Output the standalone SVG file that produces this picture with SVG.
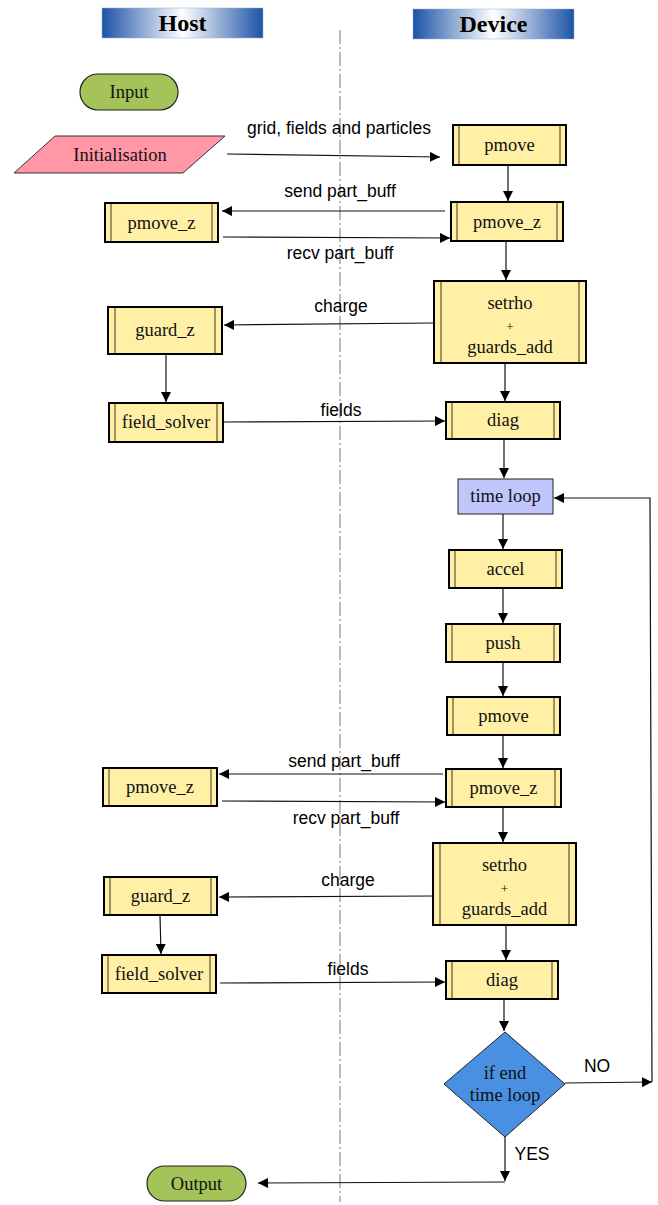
<svg xmlns="http://www.w3.org/2000/svg" width="658" height="1205" viewBox="0 0 658 1205">
<defs>
<linearGradient id="hdr" x1="0" y1="0" x2="1" y2="0">
<stop offset="0" stop-color="#1d53a6"/>
<stop offset="0.5" stop-color="#ffffff"/>
<stop offset="1" stop-color="#1d53a6"/>
</linearGradient>
<marker id="ah" viewBox="0 0 10 10" refX="10" refY="5" markerWidth="10" markerHeight="10" markerUnits="userSpaceOnUse" orient="auto">
<path d="M0,0 L10,5 L0,10 z" fill="#000"/>
</marker>
</defs>
<style>
.hdr{fill:url(#hdr);stroke:#8fb0e0;stroke-width:0.5}
.ht{font-family:"Liberation Serif",serif;font-weight:bold;font-size:24px;text-anchor:middle;fill:#000}
.box{fill:#fff0a5;stroke:#000;stroke-width:2}
.inner{stroke:#5e5434;stroke-width:1.2}
.nt{font-family:"Liberation Serif",serif;font-size:18.5px;text-anchor:middle;fill:#111}
.pt{font-family:"Liberation Serif",serif;font-size:13px;text-anchor:middle;fill:#111}
.pill{fill:#a4c359;stroke:#222;stroke-width:1.2}
.lbl{font-family:"Liberation Sans",Arial,sans-serif;font-size:17.5px;text-anchor:middle;fill:#000}
.c{fill:none;stroke:#111;stroke-width:1.2}
.ca{fill:none;stroke:#111;stroke-width:1.2;marker-end:url(#ah)}
</style>
<rect width="658" height="1205" fill="#fff"/>
<line x1="340" y1="30" x2="340" y2="1202" stroke="#777" stroke-width="1" stroke-dasharray="14,3,2,3"/>

<g id="hdr-host"><rect class="hdr" x="102" y="8" width="161" height="30"/><text class="ht" x="182.5" y="31">Host</text></g>
<g id="hdr-device"><rect class="hdr" x="413" y="9" width="161" height="30"/><text class="ht" x="493.5" y="32">Device</text></g>

<g id="input"><rect class="pill" x="80" y="74" width="98" height="36" rx="18"/><text class="nt" x="129" y="98">Input</text></g>
<g id="init"><polygon points="55,136 225,136 183,173 14,173" fill="#ff97a6" stroke="#333" stroke-width="1"/><text class="nt" x="120" y="161">Initialisation</text></g>

<g id="d-pmove1"><rect class="box" x="453" y="125" width="113" height="40"/><line class="inner" x1="459" y1="126" x2="459" y2="164"/><line class="inner" x1="560" y1="126" x2="560" y2="164"/><text class="nt" x="509.5" y="151">pmove</text></g>
<g id="d-pmovez1"><rect class="box" x="451" y="202" width="112" height="39"/><line class="inner" x1="457" y1="203" x2="457" y2="240"/><line class="inner" x1="557" y1="203" x2="557" y2="240"/><text class="nt" x="507" y="228">pmove_z</text></g>
<g id="h-pmovez1"><rect class="box" x="105" y="203" width="113" height="39"/><line class="inner" x1="111" y1="204" x2="111" y2="241"/><line class="inner" x1="212" y1="204" x2="212" y2="241"/><text class="nt" x="161.5" y="229">pmove_z</text></g>
<g id="d-setrho1"><rect class="box" x="434" y="281" width="152" height="82"/><line class="inner" x1="441" y1="282" x2="441" y2="362"/><line class="inner" x1="579" y1="282" x2="579" y2="362"/><text class="nt" x="510" y="309">setrho</text><text class="pt" x="510" y="331">+</text><text class="nt" x="510" y="353">guards_add</text></g>
<g id="h-guardz1"><rect class="box" x="108" y="307" width="114" height="47"/><line class="inner" x1="115" y1="308" x2="115" y2="353"/><line class="inner" x1="215" y1="308" x2="215" y2="353"/><text class="nt" x="165" y="336">guard_z</text></g>
<g id="h-fs1"><rect class="box" x="109" y="403" width="114" height="39"/><line class="inner" x1="115" y1="404" x2="115" y2="441"/><line class="inner" x1="217" y1="404" x2="217" y2="441"/><text class="nt" x="166" y="428">field_solver</text></g>
<g id="d-diag1"><rect class="box" x="446" y="402" width="114" height="37"/><line class="inner" x1="452" y1="403" x2="452" y2="438"/><line class="inner" x1="554" y1="403" x2="554" y2="438"/><text class="nt" x="503" y="426">diag</text></g>
<g id="timeloop"><rect x="458" y="479" width="95" height="35" fill="#c0c6fc" stroke="#222" stroke-width="1"/><text class="nt" x="505.5" y="502">time loop</text></g>
<g id="d-accel"><rect class="box" x="449" y="550" width="113" height="38"/><line class="inner" x1="455" y1="551" x2="455" y2="587"/><line class="inner" x1="556" y1="551" x2="556" y2="587"/><text class="nt" x="505.5" y="575">accel</text></g>
<g id="d-push"><rect class="box" x="446" y="624" width="114" height="38"/><line class="inner" x1="452" y1="625" x2="452" y2="661"/><line class="inner" x1="554" y1="625" x2="554" y2="661"/><text class="nt" x="503" y="649">push</text></g>
<g id="d-pmove2"><rect class="box" x="447" y="697" width="113" height="38"/><line class="inner" x1="453" y1="698" x2="453" y2="734"/><line class="inner" x1="554" y1="698" x2="554" y2="734"/><text class="nt" x="503.5" y="722">pmove</text></g>
<g id="d-pmovez2"><rect class="box" x="446" y="769" width="115" height="38"/><line class="inner" x1="452" y1="770" x2="452" y2="806"/><line class="inner" x1="555" y1="770" x2="555" y2="806"/><text class="nt" x="503.5" y="794">pmove_z</text></g>
<g id="h-pmovez2"><rect class="box" x="103" y="768" width="114" height="38"/><line class="inner" x1="109" y1="769" x2="109" y2="805"/><line class="inner" x1="211" y1="769" x2="211" y2="805"/><text class="nt" x="160" y="793">pmove_z</text></g>
<g id="d-setrho2"><rect class="box" x="433" y="843" width="143" height="82"/><line class="inner" x1="440" y1="844" x2="440" y2="924"/><line class="inner" x1="569" y1="844" x2="569" y2="924"/><text class="nt" x="504.5" y="871">setrho</text><text class="pt" x="504.5" y="893">+</text><text class="nt" x="504.5" y="915">guards_add</text></g>
<g id="h-guardz2"><rect class="box" x="104" y="877" width="113" height="38"/><line class="inner" x1="110" y1="878" x2="110" y2="914"/><line class="inner" x1="211" y1="878" x2="211" y2="914"/><text class="nt" x="160.5" y="902">guard_z</text></g>
<g id="h-fs2"><rect class="box" x="102" y="955" width="114" height="38"/><line class="inner" x1="108" y1="956" x2="108" y2="992"/><line class="inner" x1="210" y1="956" x2="210" y2="992"/><text class="nt" x="159" y="980">field_solver</text></g>
<g id="d-diag2"><rect class="box" x="446" y="961" width="112" height="38"/><line class="inner" x1="452" y1="962" x2="452" y2="998"/><line class="inner" x1="552" y1="962" x2="552" y2="998"/><text class="nt" x="502" y="986">diag</text></g>
<g id="decision"><polygon points="505,1032 565,1084 505,1137 444,1084" fill="#4a90e2" stroke="#222" stroke-width="1"/><text class="nt" x="505" y="1079">if end</text><text class="nt" x="505" y="1101">time loop</text></g>
<g id="output"><rect class="pill" x="147" y="1166" width="99" height="35" rx="17.5"/><text class="nt" x="196.5" y="1190">Output</text></g>

<g id="connectors">
<line class="ca" x1="227" y1="154" x2="440" y2="157"/>
<line class="ca" x1="508" y1="165" x2="508" y2="201"/>
<line class="ca" x1="445" y1="211" x2="222" y2="211"/>
<line class="ca" x1="223" y1="237" x2="450" y2="238"/>
<line class="ca" x1="506" y1="241" x2="506" y2="280"/>
<line class="ca" x1="434" y1="323" x2="224" y2="325"/>
<line class="ca" x1="166" y1="354" x2="166" y2="402"/>
<line class="ca" x1="223" y1="422" x2="445" y2="421"/>
<line class="ca" x1="505" y1="363" x2="505" y2="401"/>
<line class="ca" x1="504" y1="439" x2="504" y2="478"/>
<line class="ca" x1="503" y1="514" x2="503" y2="549"/>
<line class="ca" x1="503" y1="588" x2="503" y2="623"/>
<line class="ca" x1="503" y1="662" x2="503" y2="696"/>
<line class="ca" x1="503" y1="735" x2="503" y2="768"/>
<line class="ca" x1="443" y1="774" x2="219" y2="774"/>
<line class="ca" x1="222" y1="801" x2="445" y2="802"/>
<line class="ca" x1="503" y1="807" x2="503" y2="842"/>
<line class="ca" x1="433" y1="896" x2="219" y2="897"/>
<line class="ca" x1="160" y1="915" x2="161" y2="954"/>
<line class="ca" x1="220" y1="983" x2="445" y2="982"/>
<line class="ca" x1="506" y1="925" x2="506" y2="960"/>
<line class="ca" x1="504" y1="999" x2="504" y2="1031"/>
<line class="ca" x1="565" y1="1083" x2="652" y2="1082"/>
<polyline class="ca" points="652,1082 650,498 554,498"/>
<line class="ca" x1="505" y1="1137" x2="505" y2="1181"/>
<line class="ca" x1="505" y1="1182" x2="258" y2="1183"/>
<text class="lbl" x="339" y="134">grid, fields and particles</text>
<text class="lbl" x="340" y="197">send part_buff</text>
<text class="lbl" x="340" y="259">recv part_buff</text>
<text class="lbl" x="341" y="312">charge</text>
<text class="lbl" x="341" y="416">fields</text>
<text class="lbl" x="344" y="767">send part_buff</text>
<text class="lbl" x="346" y="824">recv part_buff</text>
<text class="lbl" x="348" y="886">charge</text>
<text class="lbl" x="348" y="975">fields</text>
<text class="lbl" x="597" y="1072">NO</text>
<text class="lbl" x="532" y="1160">YES</text>
</g>
</svg>
